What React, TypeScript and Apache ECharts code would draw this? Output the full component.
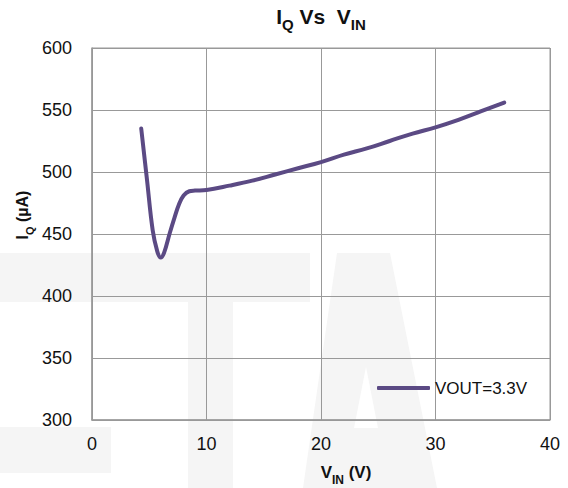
import React, { useEffect, useRef } from "react";
import * as echarts from "echarts";

// Data
const vin: number[] = [4.3, 4.8, 5.3, 5.7, 6.0, 6.3, 6.8, 7.2, 7.6, 8.0, 8.5, 9.0, 10, 12, 14, 16, 18, 20, 22, 24, 26, 28, 30, 32, 34, 36];
const iq: number[] = [535, 494, 453, 436, 431, 435, 451, 463, 474, 481, 484.5, 485, 485.5, 489, 493, 498, 503, 508, 514, 519, 525, 531, 536, 542, 549, 556];
const seriesName = "VOUT=3.3V";
const xMin = 0, xMax = 40, xStep = 10;
const yMin = 300, yMax = 600, yStep = 50;

const FONT = "'Liberation Sans', Arial, sans-serif";
const WM = "#f5f5f5";
const LINE_COLOR = "#5b4a84";

export default function App() {
  const ref = useRef<HTMLDivElement>(null);
  useEffect(() => {
    document.body.style.margin = "0";
    if (!ref.current) return;
    const chart = echarts.init(ref.current, null, { renderer: "svg" });
    const data = vin.map((x, i) => [x, iq[i]]);
    chart.setOption({
      animation: false,
      backgroundColor: "#ffffff",
      textStyle: { fontFamily: FONT },
      grid: { left: 92, right: 18, top: 48, bottom: 68, show: true, borderColor: "#999", borderWidth: 1, backgroundColor: "transparent" },
      xAxis: {
        type: "value",
        min: xMin,
        max: xMax,
        interval: xStep,
        axisLine: { show: true, lineStyle: { color: "#999", width: 1.5 } },
        axisTick: { show: false },
        splitLine: { show: true, lineStyle: { color: "#999", width: 1 } },
        axisLabel: { color: "#111", fontSize: 18, fontFamily: FONT, margin: 15 },
      },
      yAxis: {
        type: "value",
        min: yMin,
        max: yMax,
        interval: yStep,
        axisLine: { show: true, lineStyle: { color: "#999", width: 1.5 } },
        axisTick: { show: false },
        splitLine: { show: true, lineStyle: { color: "#999", width: 1 } },
        axisLabel: { color: "#111", fontSize: 18, fontFamily: FONT, margin: 20 },
      },
      legend: {
        show: true,
        left: 377,
        top: 378,
        padding: 0,
        itemWidth: 53,
        itemHeight: 4,
        itemGap: 5,
        itemStyle: { color: LINE_COLOR, borderWidth: 0 },
        textStyle: { color: "#111", fontSize: 17, fontFamily: FONT, lineHeight: 20 },
        data: [{ name: seriesName, icon: "roundRect" }],
      },
      series: [
        {
          type: "line",
          name: seriesName,
          data,
          smooth: 0.4,
          symbol: "none",
          lineStyle: { color: LINE_COLOR, width: 4, cap: "round", join: "round" },
          itemStyle: { color: LINE_COLOR },
          z: 5,
        },
      ],
      graphic: {
        elements: [
          // faint background watermark
          { type: "rect", z: -10, silent: true, shape: { x: 0, y: 253, width: 310, height: 49 }, style: { fill: WM } },
          { type: "rect", z: -10, silent: true, shape: { x: 188, y: 302, width: 45, height: 186 }, style: { fill: WM } },
          { type: "rect", z: -10, silent: true, shape: { x: 0, y: 427, width: 111, height: 46 }, style: { fill: WM } },
          { type: "polygon", z: -10, silent: true, shape: { points: [[337, 253], [390, 253], [437, 488], [303, 488]] }, style: { fill: WM } },
          { type: "polygon", z: -9, silent: true, shape: { points: [[366, 367], [378, 428], [354, 428]] }, style: { fill: "#ffffff" } },
          // title
          {
            type: "text",
            z: 10,
            x: 321,
            y: 9,
            style: {
              text: "{a|I}{b|Q}{a| Vs  V}{b|IN}",
              align: "center",
              verticalAlign: "top",
              fill: "#111",
              rich: {
                a: { fontSize: 21, fontWeight: "bold", fontFamily: FONT, lineHeight: 23, padding: [0, 0, 5, 0], verticalAlign: "bottom", fill: "#111" },
                b: { fontSize: 15, fontWeight: "bold", fontFamily: FONT, lineHeight: 16, verticalAlign: "bottom", fill: "#111" },
              },
            },
          },
          // x axis name
          {
            type: "text",
            z: 10,
            x: 346,
            y: 467,
            style: {
              text: "{a|V}{b|IN}{a| (V)}",
              align: "center",
              verticalAlign: "top",
              fill: "#111",
              rich: {
                a: { fontSize: 17, fontWeight: "bold", fontFamily: FONT, lineHeight: 19, padding: [0, 0, 5, 0], verticalAlign: "bottom", fill: "#111" },
                b: { fontSize: 12, fontWeight: "bold", fontFamily: FONT, lineHeight: 13, verticalAlign: "bottom", fill: "#111" },
              },
            },
          },
          // y axis name
          {
            type: "text",
            z: 10,
            x: 26.5,
            y: 215,
            rotation: Math.PI / 2,
            style: {
              text: "{a|I}{b|Q}{a| (µA)}",
              align: "center",
              verticalAlign: "middle",
              fill: "#111",
              rich: {
                a: { fontSize: 16, fontWeight: "bold", fontFamily: FONT, lineHeight: 18, padding: [0, 0, 5, 0], verticalAlign: "bottom", fill: "#111" },
                b: { fontSize: 11, fontWeight: "bold", fontFamily: FONT, lineHeight: 12, verticalAlign: "bottom", fill: "#111" },
              },
            },
          },
        ],
      },
    });
    return () => chart.dispose();
  }, []);
  return <div ref={ref} style={{ width: 568, height: 488 }} />;
}
